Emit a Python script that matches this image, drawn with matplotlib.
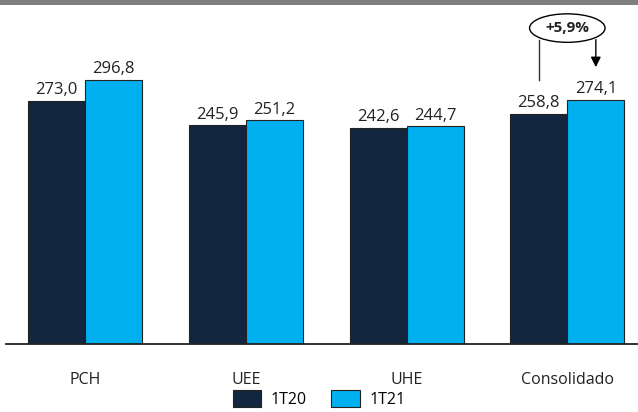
import numpy as np
import matplotlib.pyplot as plt
from matplotlib.patches import Ellipse, Rectangle

categories = ["PCH", "UEE", "UHE", "Consolidado"]
series_names = ["1T20", "1T21"]
values_1t20 = [273.0, 245.9, 242.6, 258.8]
values_1t21 = [296.8, 251.2, 244.7, 274.1]
variation_label = "+5,9%"

dark = "#12263f"
light = "#00b0f0"

plt.rcParams['font.family'] = ['Open Sans', 'DejaVu Sans']

fig = plt.figure(figsize=(6.38, 4.12), dpi=100)
ax = fig.add_axes([0.0, 0.165, 1.0, 0.823])

# gray band across the top
fig.patches.append(Rectangle((0, 0.988), 1, 0.012, transform=fig.transFigure,
                             facecolor="#7f7f7f", edgecolor="none"))

x = np.arange(len(categories))
w = 0.355
b1 = ax.bar(x - w / 2, values_1t20, w, color=dark, edgecolor="#222222", linewidth=0.8, label=series_names[0])
b2 = ax.bar(x + w / 2, values_1t21, w, color=light, edgecolor="#222222", linewidth=0.8, label=series_names[1])

for bars in (b1, b2):
    for r in bars:
        v = r.get_height()
        ax.text(r.get_x() + r.get_width() / 2, v + 3, f"{v:.1f}".replace(".", ","),
                ha="center", va="bottom", fontsize=12, color="#222222")

ax.set_xlim(-0.531, 3.44)
ax.set_ylim(0, 381)
ax.set_yticks([])
ax.set_xticks(x)
ax.set_xticklabels(categories, fontsize=11.5, color="#222222")
ax.tick_params(axis="x", length=0, pad=20)
for s in ["top", "right", "left"]:
    ax.spines[s].set_visible(False)
ax.spines["bottom"].set_linewidth(1.3)
ax.spines["bottom"].set_color("#222222")
ax.spines["bottom"].set_bounds(-0.493, 3.44)

# variation callout on Consolidado
xl = x[-1] - w / 2
xr = x[-1] + w / 2
ey = 355
ax.add_patch(Ellipse((x[-1], ey), 0.47, 32, facecolor="white", edgecolor="black",
                     linewidth=1.0, clip_on=False))
ax.text(x[-1], ey, variation_label, ha="center", va="center", fontsize=11,
        fontweight="bold", color="#222222")
ax.plot([xl, xl], [values_1t21[-1] + 23, ey - 13], color="#333333", linewidth=1.0)
ax.annotate("", xy=(xr, values_1t21[-1] + 37), xytext=(xr, ey - 13),
            arrowprops=dict(arrowstyle="-|>", color="black", linewidth=1.0,
                            mutation_scale=15, shrinkA=0, shrinkB=0))

ax.legend(loc="center", bbox_to_anchor=(0.5, -0.162), ncol=2, frameon=False,
          fontsize=11.5, handlelength=1.8, handleheight=1.3, columnspacing=1.5,
          handletextpad=0.6)

fig.savefig("out.png", dpi=100)
